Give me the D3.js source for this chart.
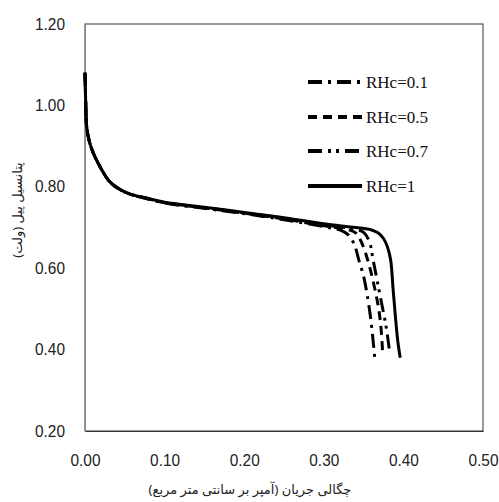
<!DOCTYPE html>
<html>
<head>
<meta charset="utf-8">
<script src="https://cdn.jsdelivr.net/npm/d3@7"></script>
<style>
  body { margin: 0; background: #fff; }
  svg { display: block; }
</style>
</head>
<body>
<svg id="chart" width="499" height="502"></svg>
<script>
// values: [current density, cell potential]
const rhc01 = [[0,1.08],[0.001,1.0],[0.002,0.95],[0.005,0.915],[0.01,0.885],[0.016,0.86],[0.023,0.835],[0.03,0.815],[0.04,0.798],[0.055,0.783],[0.075,0.772],[0.1,0.76],[0.15,0.747],[0.2,0.734],[0.25,0.719],[0.3,0.702],[0.32,0.694],[0.33,0.683],[0.338,0.66],[0.344,0.62],[0.35,0.58],[0.354,0.54],[0.358,0.49],[0.361,0.44],[0.364,0.38]];
const rhc05 = [[0,1.08],[0.001,1.0],[0.002,0.95],[0.005,0.915],[0.01,0.885],[0.016,0.86],[0.023,0.835],[0.03,0.815],[0.04,0.798],[0.055,0.783],[0.075,0.773],[0.1,0.761],[0.15,0.748],[0.2,0.735],[0.25,0.721],[0.3,0.704],[0.33,0.695],[0.34,0.687],[0.347,0.665],[0.352,0.64],[0.358,0.6],[0.364,0.55],[0.369,0.5],[0.372,0.45],[0.374,0.39]];
const rhc07 = [[0,1.08],[0.001,1.0],[0.002,0.95],[0.005,0.915],[0.01,0.885],[0.016,0.86],[0.023,0.835],[0.03,0.815],[0.04,0.798],[0.055,0.783],[0.075,0.773],[0.1,0.761],[0.15,0.749],[0.2,0.736],[0.25,0.723],[0.3,0.707],[0.34,0.695],[0.35,0.688],[0.357,0.667],[0.362,0.62],[0.367,0.57],[0.373,0.51],[0.378,0.46],[0.383,0.39]];
const rhc1 = [[0,1.08],[0.001,1.0],[0.002,0.95],[0.005,0.915],[0.01,0.885],[0.016,0.86],[0.023,0.835],[0.03,0.815],[0.04,0.798],[0.055,0.783],[0.075,0.773],[0.1,0.762],[0.15,0.75],[0.2,0.737],[0.25,0.724],[0.3,0.709],[0.34,0.7],[0.36,0.694],[0.368,0.687],[0.375,0.673],[0.38,0.652],[0.384,0.62],[0.387,0.55],[0.39,0.48],[0.393,0.42],[0.396,0.38]];

const seriesNames = ["RHc=0.1", "RHc=0.5", "RHc=0.7", "RHc=1"];
const xTicks = [0, 0.1, 0.2, 0.3, 0.4, 0.5];
const yTicks = [0.2, 0.4, 0.6, 0.8, 1.0, 1.2];

const dashes = ["14,6,3,6", "9,6", "14,6,3,5,3,6", null];
const allSeries = [rhc01, rhc05, rhc07, rhc1];

const svg = d3.select("#chart");
const mLeft = 85, mRight = 483, mTop = 24, mBottom = 431;

const x = d3.scaleLinear().domain([0, 0.5]).range([mLeft, mRight]);
const y = d3.scaleLinear().domain([0.2, 1.2]).range([mBottom, mTop]);

const tickFont = "'Liberation Sans', 'DejaVu Sans', sans-serif";

// frame
svg.append("rect")
  .attr("x", mLeft).attr("y", mTop)
  .attr("width", mRight - mLeft).attr("height", mBottom - mTop)
  .attr("fill", "none").attr("stroke", "#333").attr("stroke-width", 1);

const xAxis = svg.append("g")
  .attr("transform", `translate(0,${mBottom})`)
  .call(d3.axisBottom(x).tickValues(xTicks).tickFormat(d3.format(".2f")).tickSize(0).tickPadding(24));
const yAxis = svg.append("g")
  .attr("transform", `translate(${mLeft},0)`)
  .call(d3.axisLeft(y).tickValues(yTicks).tickFormat(d3.format(".2f")).tickSize(0).tickPadding(20));

// narrow tick labels like the original
[xAxis, yAxis].forEach(a => {
  a.select(".domain").attr("stroke", "#888");
  a.selectAll("text")
    .attr("font-family", tickFont)
    .attr("font-size", 16)
    .attr("textLength", 30)
    .attr("lengthAdjust", "spacingAndGlyphs")
    .attr("fill", "#222");
});
xAxis.select(".domain").attr("stroke", "#333");

const line = d3.line()
  .x(d => x(d[0]))
  .y(d => y(d[1]))
  .curve(d3.curveCatmullRom.alpha(0.5));

allSeries.forEach((s, i) => {
  svg.append("path")
    .datum(s)
    .attr("d", line)
    .attr("fill", "none")
    .attr("stroke", "#000")
    .attr("stroke-width", 3)
    .attr("stroke-dasharray", dashes[i]);
});

// legend
const legendY = [82, 117, 151, 186];
const lg = svg.append("g");
seriesNames.forEach((name, i) => {
  lg.append("line")
    .attr("x1", 308).attr("x2", 362)
    .attr("y1", legendY[i]).attr("y2", legendY[i])
    .attr("stroke", "#000").attr("stroke-width", 4)
    .attr("stroke-dasharray", dashes[i]);
  lg.append("text")
    .attr("x", 366).attr("y", legendY[i] + 6)
    .attr("font-family", "'Liberation Serif', 'DejaVu Serif', serif")
    .attr("font-size", 17)
    .attr("fill", "#111")
    .text(name);
});

// axis titles
svg.append("text")
  .attr("x", 250).attr("y", 494)
  .attr("text-anchor", "middle")
  .attr("font-family", "'Noto Sans', 'DejaVu Sans', sans-serif")
  .attr("font-size", 13)
  .attr("fill", "#222")
  .text("چگالی جریان (آمپر بر سانتی متر مربع)");

svg.append("text")
  .attr("transform", "translate(22,210) rotate(-90)")
  .attr("text-anchor", "middle")
  .attr("font-family", "'Noto Sans', 'DejaVu Sans', sans-serif")
  .attr("font-size", 13)
  .attr("fill", "#222")
  .text("پتانسیل پیل (ولت)");
</script>
</body>
</html>
